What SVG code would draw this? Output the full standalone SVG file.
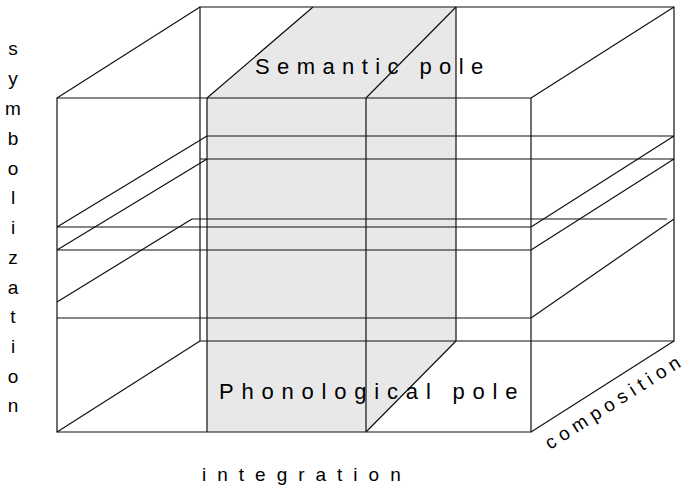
<svg xmlns="http://www.w3.org/2000/svg" width="692" height="489" viewBox="0 0 692 489">
<style>
.ln{stroke:#111;stroke-width:1.2;fill:none}
.t{font-family:"Liberation Sans",Arial,sans-serif;fill:#000}
</style>
<rect width="692" height="489" fill="#fff"/>
<g id="slab-fill">
<polygon points="207,98 313,7 456,7 456,341 366,432 207,432" fill="#e8e8e8"/>
</g>
<g id="box" class="ln">
<path d="M57,98H531V432H57Z"/>
<path d="M200,7H674V341H200Z"/>
<path d="M57,98L200,7M531,98L674,7M57,432L200,341M531,432L674,341"/>
</g>
<g id="slab" class="ln">
<path d="M207,98V432M366,98V432M456,7V341"/>
<path d="M207,98L313,7M366,98L456,7M366,432L456,341"/>
</g>
<g id="planes" class="ln">
<path d="M57,227H531M207,136H674M57,227L207,136M531,227L674,136"/>
<path d="M57,250H531M200,159H674M57,250L207,159M531,250L674,159"/>
<path d="M57,318H531M192,219H667M57,302L192,219M531,318L674,219"/>
</g>
<g id="labels" class="t">
<text x="255" y="74" font-size="22" letter-spacing="7.4">Semantic pole</text>
<text x="219" y="399" font-size="22" letter-spacing="7.8">Phonological pole</text>
<text x="202" y="481" font-size="19" letter-spacing="11">integration</text>
<text transform="translate(550,450) rotate(-32.5)" font-size="19" letter-spacing="5.5">composition</text>
<g font-size="19" text-anchor="middle">
<text x="13" y="55">s</text>
<text x="13" y="85">y</text>
<text x="13" y="115">m</text>
<text x="13" y="145">b</text>
<text x="13" y="175">o</text>
<text x="13" y="204">l</text>
<text x="13" y="234">i</text>
<text x="13" y="264">z</text>
<text x="13" y="294">a</text>
<text x="13" y="323">t</text>
<text x="13" y="353">i</text>
<text x="13" y="383">o</text>
<text x="13" y="412">n</text>
</g>
</g>
</svg>
